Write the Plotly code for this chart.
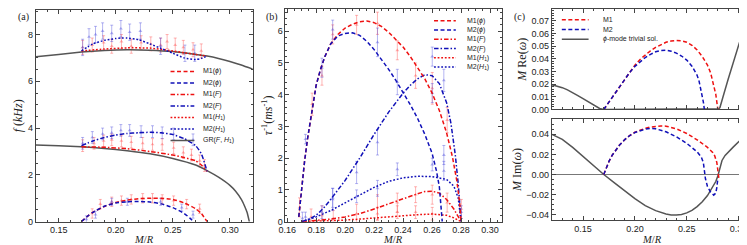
import plotly.graph_objects as go

W, H = 747, 245
RED = "#ee1111"
BLUE = "#1010b8"
GREY = "#555555"
PRED = "rgba(255,70,70,0.40)"
PBLUE = "rgba(70,70,220,0.40)"
DASH = "4px,2.5px"
DASHDOT = "4.5px,2px,1.5px,2px"
DOT = "1.8px,1.8px"

# ---------------- panel (a) data ----------------
a_gr_up_x = [0.13, 0.15, 0.17, 0.19, 0.21, 0.23, 0.25, 0.27, 0.28, 0.29, 0.30, 0.31, 0.32]
a_gr_up_y = [7.05, 7.15, 7.25, 7.32, 7.35, 7.33, 7.27, 7.15, 7.08, 6.98, 6.85, 6.7, 6.52]
a_gr_lo_x = [0.13, 0.15, 0.17, 0.19, 0.21, 0.23, 0.25, 0.27, 0.28, 0.29, 0.30, 0.305, 0.31, 0.313, 0.315, 0.317]
a_gr_lo_y = [3.28, 3.25, 3.2, 3.13, 3.03, 2.9, 2.7, 2.42, 2.18, 1.9, 1.55, 1.3, 0.95, 0.65, 0.4, 0.0]

a_m1_h1_x = [0.17, 0.19, 0.21, 0.23, 0.25, 0.26, 0.27, 0.28]
a_m1_h1_y = [7.3, 7.38, 7.43, 7.42, 7.3, 7.22, 7.15, 7.08]
a_m2_h1_x = [0.17, 0.18, 0.19, 0.20, 0.205, 0.21, 0.22, 0.23, 0.24, 0.25, 0.26, 0.27, 0.275, 0.28]
a_m2_h1_y = [7.3, 7.6, 7.75, 7.83, 7.85, 7.85, 7.78, 7.6, 7.4, 7.2, 7.0, 6.93, 6.98, 7.08]

a_m1_f_x = [0.17, 0.19, 0.21, 0.23, 0.25, 0.26, 0.27, 0.275, 0.28]
a_m1_f_y = [3.2, 3.18, 3.12, 3.0, 2.85, 2.74, 2.6, 2.42, 2.15]
a_m2_f_x = [0.17, 0.18, 0.19, 0.20, 0.21, 0.22, 0.23, 0.24, 0.25, 0.26, 0.27, 0.275, 0.28]
a_m2_f_y = [3.25, 3.45, 3.6, 3.7, 3.77, 3.8, 3.82, 3.8, 3.72, 3.55, 3.25, 2.9, 2.15]

a_m1_phi_x = [0.17, 0.175, 0.18, 0.19, 0.20, 0.21, 0.22, 0.23, 0.24, 0.25, 0.26, 0.27, 0.275, 0.28]
a_m1_phi_y = [0.0, 0.22, 0.4, 0.65, 0.82, 0.92, 0.98, 1.0, 1.0, 0.95, 0.8, 0.55, 0.35, 0.0]
a_m2_phi_x = [0.17, 0.175, 0.18, 0.19, 0.20, 0.21, 0.22, 0.23, 0.24, 0.25, 0.26, 0.265, 0.268]
a_m2_phi_y = [0.0, 0.22, 0.4, 0.66, 0.8, 0.85, 0.86, 0.84, 0.76, 0.6, 0.35, 0.15, 0.0]

a_p1_x = [0.171, 0.1794, 0.1894, 0.1965, 0.205, 0.2136, 0.2222, 0.2307, 0.2393, 0.245, 0.2521, 0.2592, 0.2677, 0.2749,
          0.171, 0.181, 0.1894, 0.1965, 0.205, 0.2136, 0.2236, 0.2322, 0.2407, 0.2507, 0.2592, 0.2663, 0.2735, 0.2777,
          0.1794, 0.1865, 0.1965, 0.205, 0.2136, 0.2236, 0.2322, 0.2407, 0.2507, 0.2621, 0.2735]
a_p1_y = [7.45, 7.55, 7.65, 7.5, 7.7, 7.5, 7.65, 7.6, 7.55, 7.7, 7.55, 7.45, 7.35, 7.3,
          3.25, 3.35, 3.45, 3.5, 3.45, 3.4, 3.35, 3.3, 3.3, 3.15, 2.95, 2.85, 2.6, 2.4,
          0.35, 0.75, 0.85, 0.9, 0.95, 1.0, 1.0, 0.95, 0.9, 0.75, 0.55]
a_p1_e = [0.3] * 14 + [0.25] * 14 + [0.2] * 11
a_p2_x = [0.171, 0.1766, 0.1823, 0.1885, 0.1965, 0.2045, 0.2122, 0.2216, 0.2393, 0.2606, 0.2692,
          0.171, 0.1795, 0.1885, 0.1965, 0.2045, 0.2122, 0.2222, 0.2322, 0.2407, 0.2507, 0.2677,
          0.1743, 0.1823, 0.1965, 0.2102, 0.2393, 0.2578, 0.2677]
a_p2_y = [7.45, 7.9, 8.0, 8.15, 8.05, 8.25, 8.1, 8.15, 7.5, 7.2, 7.2,
          3.35, 3.6, 3.75, 3.8, 3.9, 3.9, 3.85, 3.85, 3.8, 3.75, 3.5,
          0.1, 0.3, 0.85, 0.85, 0.85, 0.6, 0.3]
a_p2_e = [0.35] * 11 + [0.25] * 11 + [0.15] * 7

# ---------------- panel (b) data ----------------
b_m1_phi_x = [0.168, 0.169, 0.17, 0.171, 0.172, 0.174, 0.176, 0.178, 0.18, 0.183, 0.186, 0.19, 0.195, 0.20, 0.205, 0.21,
              0.215, 0.22, 0.225, 0.23, 0.235, 0.24, 0.245, 0.25, 0.255, 0.26, 0.265, 0.27, 0.274, 0.277, 0.279, 0.28]
b_m1_phi_y = [0.15, 0.6, 1.05, 1.5, 1.9, 2.6, 3.2, 3.8, 4.3, 4.8, 5.2, 5.6, 5.9, 6.1, 6.22, 6.3,
              6.32, 6.27, 6.15, 5.97, 5.75, 5.5, 5.2, 4.87, 4.5, 4.05, 3.5, 2.8, 2.05, 1.3, 0.6, 0.0]
b_m2_phi_x = [0.168, 0.169, 0.17, 0.171, 0.172, 0.174, 0.176, 0.178, 0.18, 0.183, 0.186, 0.19, 0.195, 0.20, 0.205,
              0.21, 0.215, 0.22, 0.225, 0.23, 0.235, 0.24, 0.245, 0.25, 0.255, 0.26, 0.263, 0.265, 0.266, 0.267]
b_m2_phi_y = [0.15, 0.6, 1.05, 1.5, 1.9, 2.6, 3.2, 3.8, 4.3, 4.8, 5.2, 5.6, 5.85, 5.93, 5.95,
              5.87, 5.68, 5.42, 5.12, 4.8, 4.45, 4.07, 3.68, 3.25, 2.75, 2.15, 1.6, 1.1, 0.6, 0.0]
b_m1_f_x = [0.17, 0.18, 0.19, 0.20, 0.21, 0.22, 0.23, 0.24, 0.25, 0.255, 0.26, 0.265, 0.27, 0.275, 0.28]
b_m1_f_y = [0.0, 0.03, 0.08, 0.15, 0.25, 0.4, 0.55, 0.72, 0.88, 0.95, 0.96, 0.9, 0.7, 0.4, 0.0]
b_m2_f_x = [0.17, 0.175, 0.18, 0.185, 0.19, 0.20, 0.21, 0.22, 0.23, 0.24, 0.245, 0.25, 0.255, 0.26, 0.265, 0.27, 0.273, 0.276, 0.278, 0.28]
b_m2_f_y = [0.0, 0.08, 0.2, 0.42, 0.7, 1.3, 2.0, 2.75, 3.45, 4.05, 4.3, 4.5, 4.63, 4.6, 4.35, 3.75, 3.1, 2.1, 1.2, 0.0]
b_m1_h1_x = [0.17, 0.19, 0.20, 0.21, 0.22, 0.23, 0.24, 0.25, 0.26, 0.27, 0.275, 0.28]
b_m1_h1_y = [0.0, 0.02, 0.05, 0.08, 0.12, 0.16, 0.2, 0.22, 0.24, 0.2, 0.12, 0.0]
b_m2_h1_x = [0.17, 0.18, 0.19, 0.20, 0.21, 0.22, 0.23, 0.24, 0.25, 0.26, 0.27, 0.275, 0.278, 0.28]
b_m2_h1_y = [0.0, 0.15, 0.35, 0.6, 0.85, 1.08, 1.27, 1.38, 1.43, 1.42, 1.33, 1.12, 0.75, 0.0]

b_p1_x = [0.1685, 0.1772, 0.184, 0.1914, 0.2079, 0.2223, 0.236, 0.2486, 0.2601, 0.2704, 0.2802,
          0.1765, 0.184, 0.1918, 0.2079, 0.2223, 0.236, 0.2486, 0.2601, 0.2704,
          0.2223, 0.236, 0.2486, 0.2601]
b_p1_y = [0.45, 3.7, 4.6, 5.9, 6.2, 6.25, 5.4, 4.6, 4.2, 3.2, 0.4,
          0.15, 0.2, 0.1, 0.25, 0.45, 0.6, 0.85, 0.85, 0.6,
          0.25, 0.3, 0.3, 0.25]
b_p1_e = [0.3, 0.35, 0.3, 0.3, 0.3, 0.35, 0.3, 0.4, 0.5, 0.4, 0.3,
          0.25, 0.3, 0.25, 0.3, 0.4, 0.3, 0.25, 0.3, 0.3,
          0.2, 0.2, 0.2, 0.2]
b_p2_x = [0.1705, 0.1726, 0.184, 0.1914, 0.2223, 0.236, 0.2601, 0.2601, 0.2681,
          0.1914, 0.2079, 0.2223, 0.236, 0.2601, 0.2681, 0.2681,
          0.1726, 0.184, 0.1914, 0.2079, 0.2223, 0.2802]
b_p2_y = [0.1, 2.6, 4.85, 6.05, 5.65, 4.4, 5.2, 4.05, 4.45,
          0.75, 1.55, 2.5, 1.65, 1.8, 2.1, 1.6,
          0.15, 0.3, 0.7, 0.8, 1.05, 0.3]
b_p2_e = [0.2, 0.15, 0.3, 0.3, 0.45, 0.4, 0.3, 0.3, 0.35,
          0.3, 0.35, 0.4, 0.2, 0.2, 0.3, 0.3,
          0.15, 0.2, 0.35, 0.2, 0.25, 0.2]

# ---------------- panel (c) data ----------------
c_re_gr_x = [0.12, 0.125, 0.13, 0.135, 0.14, 0.145, 0.15, 0.155, 0.16, 0.163, 0.166, 0.17, 0.20, 0.25, 0.28,
             0.281, 0.282, 0.283, 0.285, 0.29, 0.295, 0.30, 0.305, 0.31]
c_re_gr_y = [0.0195, 0.0185, 0.0172, 0.0155, 0.0135, 0.011, 0.0085, 0.006, 0.0035, 0.002, 0.0008, 0.0, 0.0, 0.0, 0.0,
             0.0005, 0.0015, 0.004, 0.01, 0.024, 0.038, 0.051, 0.064, 0.077]
c_re_m1_x = [0.17, 0.175, 0.18, 0.185, 0.19, 0.195, 0.20, 0.205, 0.21, 0.215, 0.22, 0.225, 0.23, 0.235, 0.24, 0.245,
             0.25, 0.255, 0.26, 0.265, 0.27, 0.273, 0.276, 0.278, 0.279, 0.28]
c_re_m1_y = [0.0, 0.006, 0.012, 0.018, 0.024, 0.0297, 0.035, 0.0395, 0.043, 0.0463, 0.049, 0.0513, 0.053, 0.0541, 0.0545, 0.0542,
             0.053, 0.0507, 0.047, 0.0418, 0.035, 0.029, 0.02, 0.012, 0.006, 0.0]
c_re_m2_x = [0.17, 0.175, 0.18, 0.185, 0.19, 0.195, 0.20, 0.205, 0.21, 0.215, 0.22, 0.225, 0.23, 0.235, 0.24, 0.245,
             0.25, 0.255, 0.26, 0.262, 0.264, 0.266, 0.267]
c_re_m2_y = [0.0, 0.006, 0.012, 0.018, 0.024, 0.0293, 0.034, 0.0378, 0.041, 0.0435, 0.0455, 0.0465, 0.0467, 0.046, 0.0445, 0.0422,
             0.039, 0.0342, 0.027, 0.022, 0.015, 0.006, 0.0]

c_im_gr_x = [0.12, 0.13, 0.14, 0.15, 0.16, 0.17, 0.18, 0.19, 0.20, 0.21, 0.22, 0.23, 0.235, 0.24, 0.245, 0.25, 0.255, 0.26,
             0.265, 0.27, 0.275, 0.278, 0.28, 0.281, 0.282, 0.284, 0.287, 0.29, 0.295, 0.30, 0.305, 0.31]
c_im_gr_y = [0.04, 0.035, 0.027, 0.018, 0.009, 0.0, -0.008, -0.016, -0.024, -0.031, -0.036, -0.0393, -0.0402, -0.0403, -0.0398,
             -0.0382, -0.0357, -0.032, -0.0272, -0.021, -0.013, -0.007, -0.0015, 0.003, 0.008, 0.014, 0.019, 0.0225, 0.0275,
             0.0325, 0.0368, 0.041]
c_im_m1_x = [0.17, 0.172, 0.175, 0.178, 0.18, 0.185, 0.19, 0.195, 0.20, 0.205, 0.21, 0.215, 0.22, 0.225, 0.23, 0.24,
             0.25, 0.26, 0.27, 0.275, 0.277, 0.279, 0.28, 0.281]
c_im_m1_y = [0.0, 0.006, 0.013, 0.019, 0.022, 0.029, 0.0345, 0.0388, 0.042, 0.0443, 0.046, 0.0472, 0.048, 0.0483, 0.0481, 0.0455,
             0.0408, 0.0345, 0.027, 0.022, 0.0185, 0.012, 0.004, -0.004]
c_im_m2_x = [0.17, 0.172, 0.175, 0.178, 0.18, 0.185, 0.19, 0.195, 0.20, 0.205, 0.21, 0.215, 0.22, 0.23, 0.24,
             0.25, 0.26, 0.264, 0.266, 0.267, 0.268, 0.27, 0.273, 0.276, 0.278, 0.279, 0.28]
c_im_m2_y = [0.0, 0.006, 0.013, 0.019, 0.022, 0.029, 0.0345, 0.0388, 0.0418, 0.0438, 0.0452, 0.0458, 0.0455, 0.0425, 0.0375,
             0.031, 0.0225, 0.0175, 0.012, 0.004, -0.004, -0.012, -0.0175, -0.0205, -0.0185, -0.013, -0.004]

fig = go.Figure()


def line(x, y, color, dash, xa, ya, width=1.5, shape="linear"):
    fig.add_trace(go.Scatter(x=x, y=y, mode="lines", line=dict(color=color, dash=dash, width=width, shape=shape, smoothing=0.5),
                             xaxis=xa, yaxis=ya, showlegend=False, hoverinfo="skip"))


def pts(x, y, e, color, xa, ya):
    fig.add_trace(go.Scatter(x=x, y=y, mode="markers", marker=dict(symbol="triangle-up", size=3.5, color=color),
                             error_y=dict(type="data", array=e, color=color, thickness=1, width=1.5),
                             xaxis=xa, yaxis=ya, showlegend=False, hoverinfo="skip"))


# panel a
pts(a_p1_x, a_p1_y, a_p1_e, PRED, "x", "y")
pts(a_p2_x, a_p2_y, a_p2_e, PBLUE, "x", "y")
line(a_gr_up_x, a_gr_up_y, GREY, "solid", "x", "y", shape="spline")
line(a_gr_lo_x, a_gr_lo_y, GREY, "solid", "x", "y", shape="spline")
line(a_m1_h1_x, a_m1_h1_y, RED, DOT, "x", "y", shape="spline")
line(a_m2_h1_x, a_m2_h1_y, BLUE, DOT, "x", "y", shape="spline")
line(a_m1_f_x, a_m1_f_y, RED, DASHDOT, "x", "y", shape="spline")
line(a_m2_f_x, a_m2_f_y, BLUE, DASHDOT, "x", "y", shape="spline")
line(a_m1_phi_x, a_m1_phi_y, RED, DASH, "x", "y", shape="spline")
line(a_m2_phi_x, a_m2_phi_y, BLUE, DASH, "x", "y", shape="spline")

# panel b
pts(b_p1_x, b_p1_y, b_p1_e, PRED, "x2", "y2")
pts(b_p2_x, b_p2_y, b_p2_e, PBLUE, "x2", "y2")
line(b_m1_h1_x, b_m1_h1_y, RED, DOT, "x2", "y2")
line(b_m2_h1_x, b_m2_h1_y, BLUE, DOT, "x2", "y2")
line(b_m1_f_x, b_m1_f_y, RED, DASHDOT, "x2", "y2")
line(b_m2_f_x, b_m2_f_y, BLUE, DASHDOT, "x2", "y2")
line(b_m1_phi_x, b_m1_phi_y, RED, DASH, "x2", "y2")
line(b_m2_phi_x, b_m2_phi_y, BLUE, DASH, "x2", "y2")

# panel c
line(c_re_gr_x, c_re_gr_y, GREY, "solid", "x3", "y3")
line(c_re_m1_x, c_re_m1_y, RED, DASH, "x3", "y3")
line(c_re_m2_x, c_re_m2_y, BLUE, DASH, "x3", "y3")
line(c_im_gr_x, c_im_gr_y, GREY, "solid", "x4", "y4")
line(c_im_m1_x, c_im_m1_y, RED, DASH, "x4", "y4")
line(c_im_m2_x, c_im_m2_y, BLUE, DASH, "x4", "y4")

TF = dict(family="Liberation Sans, Arial, sans-serif", size=9, color="#222")
AX = dict(showline=True, linecolor="#444", linewidth=1, mirror="allticks", ticks="inside", ticklen=4,
          tickcolor="#444", tickwidth=0.8, showgrid=False, zeroline=False, tickfont=TF)


def px_x(p):
    return p / W


def px_y(p):
    return 1 - p / H


TTF = dict(family="Liberation Serif, Times New Roman, serif", size=12, color="#222")
XTF = dict(family="Liberation Serif, Times New Roman, serif", size=10.5, color="#222")

fig.update_layout(
    width=W, height=H, margin=dict(l=0, r=0, t=0, b=0),
    paper_bgcolor="white", plot_bgcolor="white",
    xaxis=dict(AX, domain=[px_x(21), px_x(240)], range=[0.13, 0.32], dtick=0.05, tick0=0.15, tickformat=".2f",
               minor=dict(ticks="inside", ticklen=2, dtick=0.01, tickcolor="#444"), anchor="y"),
    yaxis=dict(AX, domain=[px_y(218), px_y(1)], range=[0, 9.05], dtick=2,
               minor=dict(ticks="inside", ticklen=2, dtick=0.5, tickcolor="#444"),
               title=dict(text="<i>f</i> (<i>kHz</i>)", font=TTF, standoff=2), anchor="x"),
    xaxis2=dict(AX, domain=[px_x(273), px_x(492)], range=[0.1588, 0.3085], dtick=0.02, tick0=0.16, tickformat=".2f",
                minor=dict(ticks="inside", ticklen=2, dtick=0.005, tickcolor="#444"), anchor="y2"),
    yaxis2=dict(AX, domain=[px_y(218), px_y(0)], range=[0, 6.7], dtick=1,
                minor=dict(ticks="inside", ticklen=2, dtick=0.2, tickcolor="#444"),
                title=dict(text="<i>τ</i><sup>-1</sup>(<i>ms</i><sup>-1</sup>)", font=TTF, standoff=2), anchor="x2"),
    xaxis3=dict(AX, domain=[px_x(542), px_x(743)], range=[0.12, 0.312], dtick=0.05, tick0=0.15,
                showticklabels=False, matches="x4",
                minor=dict(ticks="inside", ticklen=2, dtick=0.01, tickcolor="#444"), anchor="y3"),
    yaxis3=dict(AX, domain=[px_y(103), px_y(0)], range=[0, 0.0793], dtick=0.01, tickformat=".2f",
                minor=dict(ticks="inside", ticklen=2, dtick=0.002, tickcolor="#444"),
                title=dict(text="<i>M</i> Re(<i>ω</i>)", font=TTF, standoff=2), anchor="x3"),
    xaxis4=dict(AX, domain=[px_x(542), px_x(743)], range=[0.12, 0.312], dtick=0.05, tick0=0.15, tickformat=".2f",
                minor=dict(ticks="inside", ticklen=2, dtick=0.01, tickcolor="#444"), anchor="y4"),
    yaxis4=dict(AX, domain=[px_y(216), px_y(113)], range=[-0.045, 0.055], dtick=0.02, tickformat=".2f",
                minor=dict(ticks="inside", ticklen=2, dtick=0.005, tickcolor="#444"),
                zeroline=True, zerolinecolor="#777", zerolinewidth=1,
                title=dict(text="<i>M</i> Im(<i>ω</i>)", font=TTF, standoff=2), anchor="x4"),
)

# x-axis titles
for xc in [130, 382, 643]:
    fig.add_annotation(text="<i>M</i>/<i>R</i>", x=px_x(xc), y=px_y(243), xref="paper", yref="paper",
                       xanchor="center", yanchor="bottom", showarrow=False, font=XTF, borderpad=0)

# panel labels
PL = dict(family="Liberation Serif, Times New Roman, serif", size=10, color="#222")
for txt, xp in [("(a)", 1), ("(b)", 251), ("(c)", 502)]:
    fig.add_annotation(text=txt, x=px_x(xp), y=px_y(8), xref="paper", yref="paper", xanchor="left", yanchor="middle",
                       showarrow=False, font=PL)

# compact legends (legend keys, not data)
LF = dict(family="Liberation Sans, Arial, sans-serif", size=7, color="#222")
leg_labels = ["M1(<i>ϕ</i>)", "M2(<i>ϕ</i>)", "M1(<i>F</i>)", "M2(<i>F</i>)", "M1(<i>H</i><sub>1</sub>)", "M2(<i>H</i><sub>1</sub>)"]
leg_colors = [RED, BLUE, RED, BLUE, RED, BLUE]
leg_dashes = [DASH, DASH, DASHDOT, DASHDOT, DOT, DOT]


def legend(labels, colors, dashes, x0, x1, xt, y0, dy):
    for i, (lab, col, d) in enumerate(zip(labels, colors, dashes)):
        yy = y0 + i * dy
        fig.add_shape(type="line", xref="paper", yref="paper", x0=px_x(x0), x1=px_x(x1), y0=px_y(yy), y1=px_y(yy),
                      line=dict(color=col, width=1.5, dash=d))
        fig.add_annotation(text=lab, x=px_x(xt), y=px_y(yy), xref="paper", yref="paper", xanchor="left",
                           yanchor="middle", showarrow=False, font=LF)


legend(leg_labels + ["GR(<i>F</i>, <i>H</i><sub>1</sub>)"], leg_colors + [GREY], leg_dashes + ["solid"], 157, 181, 188, 64, 11.8)
legend(leg_labels, leg_colors, leg_dashes, 423, 445, 454, 12, 9.5)
legend(["M1", "M2", "<i>ϕ</i>-mode trivial sol."], [RED, BLUE, GREY], [DASH, DASH, "solid"], 552, 579, 592, 11, 10)

fig.write_html("out.html")
